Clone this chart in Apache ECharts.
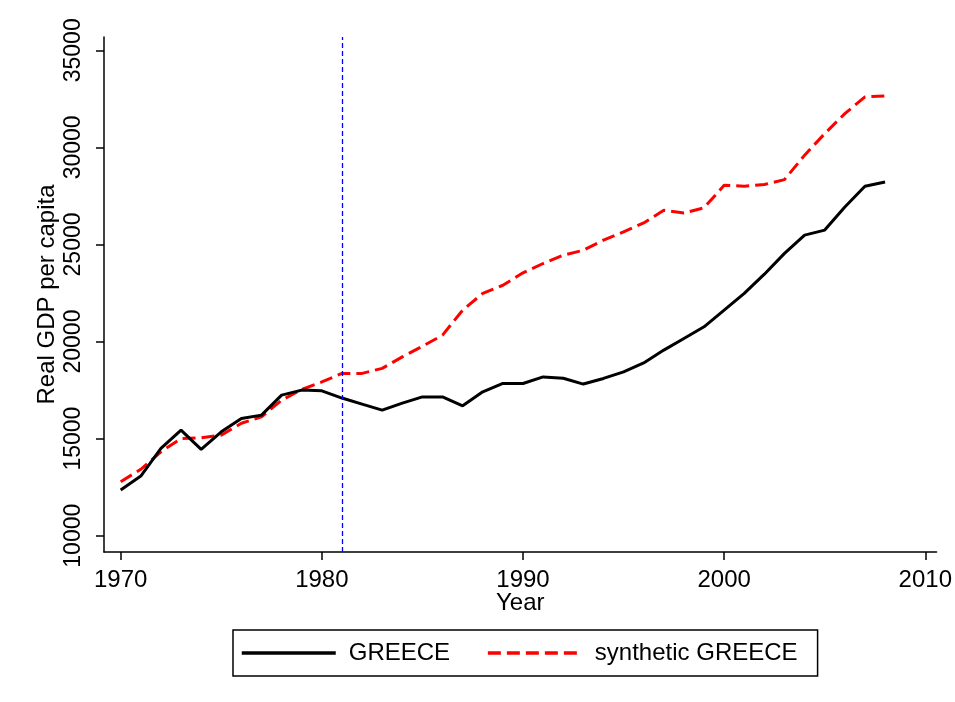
<!DOCTYPE html>
<html>
<head>
<meta charset="utf-8">
<script src="https://cdn.jsdelivr.net/npm/echarts@6/dist/echarts.min.js"></script>
<style>
  html, body { margin: 0; padding: 0; background: #fff; }
  #chart { width: 955px; height: 702px; }
</style>
</head>
<body>
<div id="chart"></div>
<script>
const years = [1970,1971,1972,1973,1974,1975,1976,1977,1978,1979,
               1980,1981,1982,1983,1984,1985,1986,1987,1988,1989,
               1990,1991,1992,1993,1994,1995,1996,1997,1998,1999,
               2000,2001,2002,2003,2004,2005,2006,2007,2008];
const greece = [12350,13070,14500,15440,14450,15350,16040,16210,17240,17500,
                17460,17090,16780,16470,16830,17150,17150,16690,17410,17840,
                17840,18180,18110,17810,18100,18440,18900,19560,20160,20760,
                21620,22480,23470,24540,25480,25740,26930,28000,28220];
const synthetic = [12780,13420,14320,15010,15040,15180,15790,16120,16980,17530,
                   17920,18360,18360,18620,19210,19760,20330,21620,22480,22900,
                   23540,24020,24450,24700,25220,25650,26110,26760,26620,26890,
                   28050,28000,28090,28340,29600,30710,31740,32600,32650];
const xTicks = [1970, 1980, 1990, 2000, 2010];
const yTicks = [10000, 15000, 20000, 25000, 30000, 35000];
const treatmentYear = 1981;

const font = 'Liberation Sans, Arial, sans-serif';
const chart = echarts.init(document.getElementById('chart'), null, { renderer: 'canvas' });

chart.setOption({
  animation: false,
  backgroundColor: '#ffffff',
  textStyle: { fontFamily: font, color: '#000' },
  grid: { left: 104, top: 37, right: 15, bottom: 150, containLabel: false },
  xAxis: {
    type: 'value',
    min: 1969.17,
    max: 2010.56,
    name: 'Year',
    nameLocation: 'middle',
    nameGap: 39,
    nameMoveOverlap: false,
    nameTextStyle: { fontSize: 24, color: '#000', fontFamily: font },
    splitLine: { show: false },
    axisLine: { show: true, lineStyle: { color: '#000', width: 1.5 } },
    axisTick: { show: true, customValues: xTicks, length: 8, lineStyle: { color: '#000', width: 1.5 } },
    axisLabel: { customValues: xTicks, fontSize: 24, color: '#000', margin: 16, fontFamily: font,
                 formatter: v => String(v) }
  },
  yAxis: {
    type: 'value',
    min: 9161,
    max: 35685,
    name: 'Real GDP per capita',
    nameLocation: 'middle',
    nameRotate: 90,
    nameGap: 45,
    nameMoveOverlap: false,
    nameTextStyle: { fontSize: 24, color: '#000', fontFamily: font },
    splitLine: { show: false },
    axisLine: { show: true, lineStyle: { color: '#000', width: 1.5 } },
    axisTick: { show: true, customValues: yTicks, length: 8, lineStyle: { color: '#000', width: 1.5 } },
    axisLabel: { customValues: yTicks, rotate: 90, fontSize: 23, color: '#000', margin: 19, fontFamily: font,
                 formatter: v => String(v) }
  },
  legend: {
    left: 233,
    top: 630,
    orient: 'horizontal',
    itemWidth: 94,
    itemHeight: 20,
    itemGap: 36,
    padding: [11, 20, 11, 7],
    borderColor: '#000',
    borderWidth: 1.5,
    backgroundColor: '#fff',
    lineStyle: { width: 3.5 },
    itemStyle: { opacity: 0 },
    textStyle: { fontSize: 24, color: '#000', fontFamily: font, padding: [0, 0, 0, 8], lineHeight: 24 },
    data: ['GREECE', 'synthetic GREECE']
  },
  series: [
    {
      name: 'GREECE',
      type: 'line',
      symbol: 'none',
      data: years.map((y, i) => [y, greece[i]]),
      lineStyle: { color: '#000', width: 3 },
      itemStyle: { color: '#000' },
      z: 3
    },
    {
      name: 'synthetic GREECE',
      type: 'line',
      symbol: 'none',
      data: years.map((y, i) => [y, synthetic[i]]),
      lineStyle: { color: '#ff0000', width: 3, type: [13, 6] },
      itemStyle: { color: '#ff0000' },
      z: 2
    },
    {
      name: 'treatment',
      type: 'line',
      data: [],
      itemStyle: { color: '#0000ff' },
      lineStyle: { color: '#0000ff' },
      markLine: {
        silent: true,
        symbol: 'none',
        label: { show: false },
        itemStyle: { color: '#0000ff' },
        lineStyle: { color: '#0000ff', width: 1.3, type: [5, 3], opacity: 1 },
        data: [{ xAxis: treatmentYear, lineStyle: { color: '#0000ff' } }]
      }
    }
  ]
});
</script>
</body>
</html>
